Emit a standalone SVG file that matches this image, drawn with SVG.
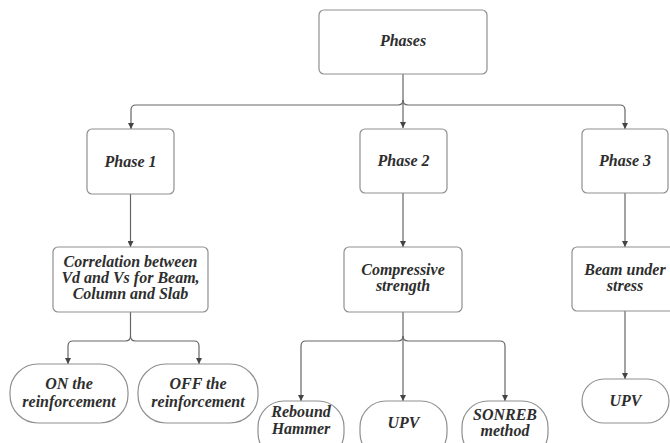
<svg xmlns="http://www.w3.org/2000/svg" width="670" height="443" viewBox="0 0 670 443">
<defs>
<marker id="arr" viewBox="0 0 10 10" refX="10" refY="5" markerWidth="6" markerHeight="6" orient="auto" markerUnits="userSpaceOnUse">
<path d="M0,0 L10,5 L0,10 z" fill="#444"/>
</marker>
<style>
.box{fill:#fff;stroke:#8f8f8f;stroke-width:1.2}
.ln{fill:none;stroke:#666;stroke-width:1.2}
.t{font-family:'Liberation Serif','DejaVu Serif',serif;font-style:italic;font-weight:bold;font-size:16px;fill:#2e2e2e;text-anchor:middle}
</style>
</defs>
<rect width="670" height="443" fill="#fff"/>
<g id="connectors">
<path class="ln" d="M403 74 V128" marker-end="url(#arr)"/>
<path class="ln" d="M403 100 Q403 105 398 105 H136 Q131 105 131 110 V129" marker-end="url(#arr)"/>
<path class="ln" d="M403 100 Q403 105 408 105 H620 Q625 105 625 110 V129" marker-end="url(#arr)"/>
<path class="ln" d="M130.5 194 V247" marker-end="url(#arr)"/>
<path class="ln" d="M403 193 V247" marker-end="url(#arr)"/>
<path class="ln" d="M625 193 V247" marker-end="url(#arr)"/>
<path class="ln" d="M130.5 312 V336 Q130.5 341 125.5 341 H73 Q68 341 68 346 V364" marker-end="url(#arr)"/>
<path class="ln" d="M130.5 336 Q130.5 341 135.5 341 H194 Q199 341 199 346 V364" marker-end="url(#arr)"/>
<path class="ln" d="M403 312 V401" marker-end="url(#arr)"/>
<path class="ln" d="M403 336 Q403 341 398 341 H306 Q301 341 301 346 V401" marker-end="url(#arr)"/>
<path class="ln" d="M403 336 Q403 341 408 341 H500 Q505 341 505 346 V401" marker-end="url(#arr)"/>
<path class="ln" d="M625 311 V379" marker-end="url(#arr)"/>
</g>
<g id="phases"><rect class="box" x="319" y="10" width="168" height="64" rx="5"/><text class="t" x="403" y="46">Phases</text></g>
<g id="phase1"><rect class="box" x="87" y="129" width="87" height="65" rx="5"/><text class="t" x="130.5" y="167">Phase 1</text></g>
<g id="phase2"><rect class="box" x="360" y="129" width="87" height="64" rx="5"/><text class="t" x="403.5" y="166">Phase 2</text></g>
<g id="phase3"><rect class="box" x="582" y="129" width="86" height="64" rx="5"/><text class="t" x="625" y="166">Phase 3</text></g>
<g id="correlation"><rect class="box" x="53" y="247" width="155" height="65" rx="5"/><text class="t" x="130.5" y="267">Correlation between</text><text class="t" x="130.5" y="283">Vd and Vs for Beam,</text><text class="t" x="130.5" y="299">Column and Slab</text></g>
<g id="compressive"><rect class="box" x="344" y="247" width="118" height="65" rx="5"/><text class="t" x="403" y="275">Compressive</text><text class="t" x="403" y="291">strength</text></g>
<g id="beam"><rect class="box" x="572" y="247" width="106" height="64" rx="5"/><text class="t" x="625" y="275">Beam under</text><text class="t" x="625" y="291">stress</text></g>
<g id="on"><rect class="box" x="10" y="364" width="118" height="59" rx="28"/><text class="t" x="69" y="389">ON the</text><text class="t" x="69" y="407">reinforcement</text></g>
<g id="off"><rect class="box" x="138" y="364" width="120" height="59" rx="28"/><text class="t" x="198" y="389">OFF the</text><text class="t" x="198" y="407">reinforcement</text></g>
<g id="rebound"><rect class="box" x="258" y="401" width="86" height="58" rx="26"/><text class="t" x="301" y="417">Rebound</text><text class="t" x="301" y="434">Hammer</text></g>
<g id="upv2"><rect class="box" x="360" y="401" width="87" height="58" rx="26"/><text class="t" x="403.5" y="428">UPV</text></g>
<g id="sonreb"><rect class="box" x="462" y="401" width="86" height="58" rx="26"/><text class="t" x="505" y="420">SONREB</text><text class="t" x="505" y="436">method</text></g>
<g id="upv3"><rect class="box" x="582" y="379" width="87" height="44" rx="22"/><text class="t" x="625.5" y="406">UPV</text></g>
</svg>
